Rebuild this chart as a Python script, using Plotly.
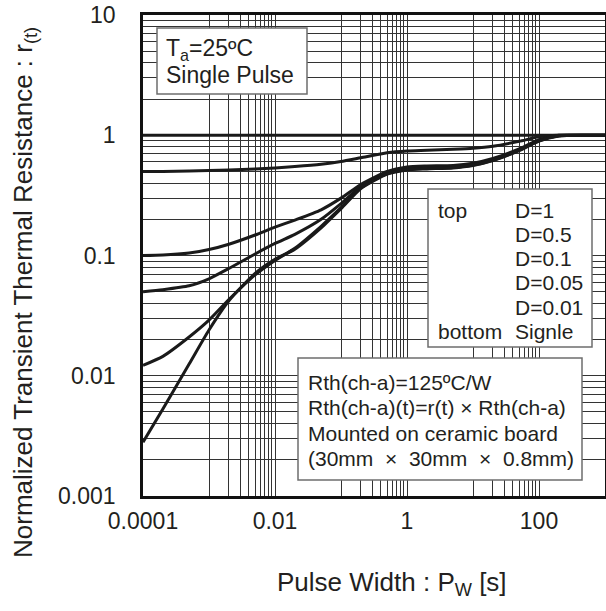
import plotly.graph_objects as go

# ---------------- data ----------------
pulse_width = [1e-4, 2e-4, 5e-4, 1e-3, 2e-3, 5e-3, 1e-2, 2e-2, 5e-2, 0.1, 0.2, 0.5,
               1, 2, 5, 10, 20, 50, 100, 200, 500, 1000]

r_d1 = [1.0] * 22
r_d05 = [0.50, 0.50, 0.505, 0.51, 0.515, 0.525, 0.535, 0.55, 0.575, 0.605, 0.65, 0.715,
         0.74, 0.75, 0.765, 0.78, 0.81, 0.89, 0.97, 1.0, 1.0, 1.0]
r_d01 = [0.100, 0.101, 0.105, 0.112, 0.124, 0.148, 0.172, 0.197, 0.24, 0.30, 0.39, 0.50,
         0.545, 0.555, 0.56, 0.585, 0.64, 0.77, 0.92, 1.0, 1.0, 1.0]
r_d005 = [0.050, 0.052, 0.056, 0.064, 0.078, 0.103, 0.126, 0.150, 0.20, 0.27, 0.375, 0.49,
          0.53, 0.54, 0.55, 0.575, 0.63, 0.76, 0.91, 0.99, 1.0, 1.0]
r_d001 = [0.0122, 0.0145, 0.021, 0.029, 0.043, 0.069, 0.091, 0.115, 0.175, 0.25, 0.365, 0.48,
          0.52, 0.53, 0.54, 0.565, 0.62, 0.75, 0.90, 0.99, 1.0, 1.0]
r_single = [0.0028, 0.0053, 0.0125, 0.024, 0.042, 0.071, 0.093, 0.113, 0.170, 0.245, 0.36, 0.475,
            0.515, 0.525, 0.535, 0.56, 0.615, 0.745, 0.895, 0.985, 1.0, 1.0]

series_names = ["D=1", "D=0.5", "D=0.1", "D=0.05", "D=0.01", "Single"]
series_values = [r_d1, r_d05, r_d01, r_d005, r_d001, r_single]

x_tick_vals = [1e-4, 1e-2, 1, 100]
x_tick_text = ["0.0001", "0.01", "1", "100"]
y_tick_vals = [1e-3, 1e-2, 1e-1, 1, 10]
y_tick_text = ["0.001", "0.01", "0.1", "1", "10"]

x_title = "Pulse Width : P<sub>W</sub> [s]"
y_title = "Normalized Transient Thermal Resistance : r<sub>(t)</sub>"

legend_left = ["top", "", "", "", "", "bottom"]
legend_right = ["D=1", "D=0.5", "D=0.1", "D=0.05", "D=0.01", "Signle"]
cond_lines = ["T<sub>a</sub>=25ºC", "Single Pulse"]
rth_lines = ["Rth(ch-a)=125ºC/W", "Rth(ch-a)(t)=r(t) × Rth(ch-a)",
             "Mounted on ceramic board", "(30mm  ×  30mm  ×  0.8mm)"]

# ---------------- grid positions (minor grid) ----------------
x_minor = []
for d in range(-4, 4):
    base = 10.0 ** d
    if d in (-3, -1, 1):
        x_minor += [k * base for k in range(1, 10)]
    else:
        x_minor.append(base)
x_minor = [v for v in x_minor if not any(abs(v - t) / t < 1e-9 for t in x_tick_vals)]

y_minor = []
for d in range(-3, 1):
    y_minor += [k * 10.0 ** d for k in range(2, 10)]

FONT = "Liberation Sans, Arial, sans-serif"
TXT = "#231f20"
GRID = "#333333"

PLOT_L, PLOT_T, PLOT_R, PLOT_B = 143, 15, 605, 496
FIG_W, FIG_H = 606, 611

fig = go.Figure()
for name, vals in zip(series_names, series_values):
    fig.add_trace(go.Scatter(x=pulse_width, y=vals, mode="lines", name=name,
                             line=dict(color="#1a1a1a", width=3, shape="spline", smoothing=0.6),
                             showlegend=False))

fig.update_layout(
    width=FIG_W, height=FIG_H,
    margin=dict(l=PLOT_L, r=FIG_W - PLOT_R, t=PLOT_T, b=FIG_H - PLOT_B),
    paper_bgcolor="white", plot_bgcolor="white",
    font=dict(family=FONT, color=TXT, size=23),
    xaxis=dict(type="log", range=[-4, 3], tickmode="array", tickvals=x_tick_vals, ticktext=x_tick_text,
               showgrid=True, gridcolor=GRID, gridwidth=1, ticks="", ticklabelstandoff=3,
               minor=dict(tickmode="array", tickvals=x_minor, showgrid=True, gridcolor=GRID,
                          gridwidth=1, ticks=""),
               showline=True, linecolor="#111", linewidth=2.5, mirror=True, zeroline=False,
               automargin=False, ticklabeloverflow="allow", tickfont=dict(size=23, color=TXT)),
    yaxis=dict(type="log", range=[-3, 1], tickmode="array", tickvals=y_tick_vals, ticktext=y_tick_text,
               showgrid=True, gridcolor=GRID, gridwidth=1, ticks="", ticklabelstandoff=20,
               minor=dict(tickmode="array", tickvals=y_minor, showgrid=True, gridcolor=GRID,
                          gridwidth=1, ticks=""),
               showline=True, linecolor="#111", linewidth=2.5, mirror=True, zeroline=False,
               automargin=False, ticklabeloverflow="allow", tickfont=dict(size=23, color=TXT)),
)

W, H = float(PLOT_R - PLOT_L), float(PLOT_B - PLOT_T)


def px(xp):
    return (xp - PLOT_L) / W


def py(yp):
    return 1 - (yp - PLOT_T) / H


# axis titles (placed as in the reference, off-centre)
fig.add_annotation(xref="paper", yref="paper", x=px(392), y=py(583), text=x_title, showarrow=False,
                   xanchor="center", yanchor="middle", font=dict(size=26, color=TXT))
fig.add_annotation(xref="paper", yref="paper", x=px(24), y=py(293), text=y_title, showarrow=False,
                   textangle=-90, xanchor="center", yanchor="middle", font=dict(size=26, color=TXT))

boxes = [(157, 28, 307, 94), (428, 189, 592, 347), (298, 358, 582, 480)]
for (a, b, c, d) in boxes:
    fig.add_shape(type="rect", xref="paper", yref="paper", x0=px(a), x1=px(c), y0=py(d), y1=py(b),
                  fillcolor="white", line=dict(color="#6d6d6d", width=1.5), layer="above")

for i, t in enumerate(cond_lines):
    fig.add_annotation(xref="paper", yref="paper", x=px(164), y=py(49 + i * 26), text=t,
                       showarrow=False, xanchor="left", yanchor="middle", font=dict(size=23, color=TXT))

for i, (l, r) in enumerate(zip(legend_left, legend_right)):
    yy = py(210 + i * 24.3)
    if l:
        fig.add_annotation(xref="paper", yref="paper", x=px(436), y=yy, text=l, showarrow=False,
                           xanchor="left", yanchor="middle", font=dict(size=21, color=TXT))
    fig.add_annotation(xref="paper", yref="paper", x=px(513), y=yy, text=r, showarrow=False,
                       xanchor="left", yanchor="middle", font=dict(size=21, color=TXT))

for i, t in enumerate(rth_lines):
    fig.add_annotation(xref="paper", yref="paper", x=px(306), y=py(382 + i * 25.5), text=t,
                       showarrow=False, xanchor="left", yanchor="middle", font=dict(size=21, color=TXT))

# remove the browser's default 8px body margin so the figure sits at the page origin; hide the modebar
fig.write_html("out.html", config={"displayModeBar": False},
               post_script="document.body.style.margin='0px';")
